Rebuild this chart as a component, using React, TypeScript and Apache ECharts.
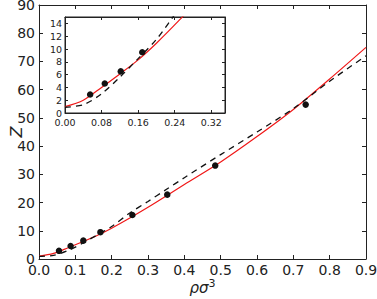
import React, { useEffect, useRef } from "react";
import * as echarts from "echarts";

const simX = [0.055, 0.087, 0.122, 0.169, 0.257, 0.353, 0.485, 0.734];
const simZ = [2.9, 4.6, 6.5, 9.5, 15.6, 22.8, 33.1, 54.7];
const curveX = [0, 0.04, 0.08, 0.12, 0.16, 0.2, 0.25, 0.3, 0.35, 0.4, 0.5, 0.6, 0.7, 0.8, 0.9];
const redZ = [1.0, 2.0, 4.0, 6.1, 8.3, 10.9, 14.5, 18.3, 22.3, 26.4, 34.4, 43.4, 53.0, 63.8, 75.0];
const dashZ = [0.9, 1.3, 3.0, 5.6, 8.5, 11.5, 16.3, 20.4, 24.6, 28.8, 37.0, 45.0, 53.3, 63.0, 72.0];

const mainXTicks = { min: 0, max: 0.9, interval: 0.1 };
const mainYTicks = { min: 0, max: 90, interval: 10 };
const insetXTicks = { min: 0, max: 0.35, interval: 0.08 };
const insetYTicks = { min: 0, max: 15, interval: 2 };

const INK = "#222";
const FONT = "DejaVu Sans";

const pairs = (xs: number[], ys: number[]) => xs.map((x, i) => [x, ys[i]]);
const onStep = (v: number, step: number) => Math.abs(v / step - Math.round(v / step)) < 1e-6;

function axisBase(range: any, tickLen: number) {
  return {
    type: "value",
    min: range.min,
    max: range.max,
    interval: range.interval,
    splitLine: { show: false },
    axisLine: { show: true, onZero: false, lineStyle: { color: INK, width: 1 } },
    axisTick: { show: true, inside: true, length: tickLen, lineStyle: { color: INK, width: 1 } },
  };
}

export default function App() {
  const ref = useRef<HTMLDivElement>(null);
  useEffect(() => {
    document.body.style.margin = "0";
    const chart = echarts.init(ref.current!, null, { renderer: "svg" });
    const red = pairs(curveX, redZ);
    const dash = pairs(curveX, dashZ);
    const sim = pairs(simX, simZ);
    const mainLabel = { color: INK, fontFamily: FONT, fontSize: 14 };
    const insetLabel = { color: INK, fontFamily: FONT, fontSize: 9.5 };
    chart.setOption({
      animation: false,
      backgroundColor: "#fff",
      grid: [
        { left: 39, top: 5, width: 327, height: 254, outerBoundsMode: "none", containLabel: false },
        { left: 65, top: 17, width: 160, height: 96, outerBoundsMode: "none", containLabel: false, show: true, backgroundColor: "#fff", borderColor: INK, borderWidth: 1, z: 5 },
      ],
      xAxis: [
        {
          ...axisBase(mainXTicks, 4),
          gridIndex: 0,
          position: "bottom",
          axisLabel: { ...mainLabel, margin: 4, formatter: (v: number) => (onStep(v, 0.1) ? v.toFixed(1) : "") },
          name: "{a|ρσ}{b|3}",
          nameLocation: "middle",
          nameGap: 19,
          nameMoveOverlap: false,
          nameTextStyle: {
            verticalAlign: "top",
            rich: {
              a: { fontFamily: FONT, fontStyle: "italic", fontSize: 15, color: INK },
              b: { fontFamily: FONT, fontStyle: "normal", fontSize: 11, color: INK, padding: [0, 0, 8, 0] },
            },
          },
        },
        { ...axisBase(mainXTicks, 4), gridIndex: 0, position: "top", axisLabel: { show: false } },
        {
          ...axisBase(insetXTicks, 3),
          gridIndex: 1,
          position: "bottom",
          axisLabel: { ...insetLabel, margin: 4, formatter: (v: number) => (onStep(v, 0.08) ? v.toFixed(2) : "") },
          z: 6,
        },
        { ...axisBase(insetXTicks, 3), gridIndex: 1, position: "top", axisLabel: { show: false }, z: 6 },
      ],
      yAxis: [
        {
          ...axisBase(mainYTicks, 4),
          gridIndex: 0,
          position: "left",
          axisLabel: { ...mainLabel, margin: 4, formatter: (v: number) => (onStep(v, 10) ? String(v) : "") },
          name: "Z",
          nameLocation: "middle",
          nameGap: 15,
          nameMoveOverlap: false,
          nameRotate: 90,
          nameTextStyle: { fontFamily: FONT, fontStyle: "italic", fontSize: 16, color: INK },
        },
        { ...axisBase(mainYTicks, 4), gridIndex: 0, position: "right", axisLabel: { show: false } },
        {
          ...axisBase(insetYTicks, 3),
          gridIndex: 1,
          position: "left",
          axisLabel: { ...insetLabel, margin: 3, formatter: (v: number) => (onStep(v, 2) ? String(v) : "") },
          z: 6,
        },
        { ...axisBase(insetYTicks, 3), gridIndex: 1, position: "right", axisLabel: { show: false }, z: 6 },
      ],
      series: [
        { type: "line", xAxisIndex: 0, yAxisIndex: 0, data: red, smooth: 0.3, showSymbol: false, lineStyle: { color: "#f01818", width: 1.2 }, z: 2 },
        { type: "line", xAxisIndex: 0, yAxisIndex: 0, data: dash, smooth: 0.3, showSymbol: false, lineStyle: { color: "#111", width: 1.3, type: [6, 5] }, z: 2 },
        { type: "scatter", xAxisIndex: 0, yAxisIndex: 0, data: sim, symbolSize: 6.5, itemStyle: { color: "#111", opacity: 1 }, z: 3 },
        { type: "line", xAxisIndex: 2, yAxisIndex: 2, data: red, smooth: 0.3, showSymbol: false, clip: true, lineStyle: { color: "#f01818", width: 1.2 }, z: 7 },
        { type: "line", xAxisIndex: 2, yAxisIndex: 2, data: dash, smooth: 0.3, showSymbol: false, clip: true, lineStyle: { color: "#111", width: 1.3, type: [6, 5] }, z: 7 },
        { type: "scatter", xAxisIndex: 2, yAxisIndex: 2, data: sim, symbolSize: 6.5, clip: true, itemStyle: { color: "#111", opacity: 1 }, z: 8 },
      ],
    });
    return () => chart.dispose();
  }, []);
  return <div ref={ref} style={{ position: "fixed", left: 0, top: 0, width: 377, height: 299 }} />;
}
